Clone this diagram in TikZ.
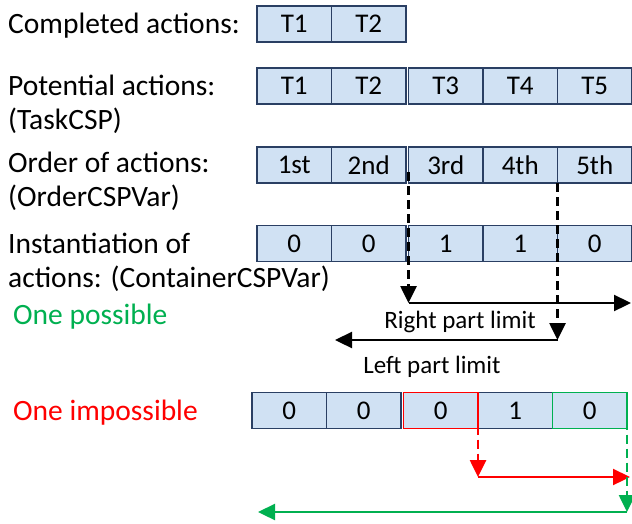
\documentclass[tikz,border=0pt]{standalone}
\usepackage{fontspec}
\setmainfont{Carlito}
\usepackage{tikz}
\usetikzlibrary{arrows.meta}
\definecolor{cellfill}{HTML}{D0E1F3}
\definecolor{celldraw}{HTML}{2A3F63}
\definecolor{okgreen}{HTML}{00B050}

\begin{document}
\begin{tikzpicture}[x=1pt,y=-1pt,node distance=74.5pt,>={Triangle[length=17pt,width=16pt]}]
                  \tikzstyle{cell}=[draw=celldraw,fill=cellfill,line width=1.3pt,minimum width=74.5pt,minimum height=36pt,inner sep=0pt,outer sep=0pt,font=\fontsize{27}{32}\selectfont]
                  \tikzstyle{rowtext}=[anchor=base west,align=left,inner sep=0pt,font=\fontsize{29.5}{34}\selectfont]
                  \tikzstyle{limittext}=[anchor=base,inner sep=0pt,font=\fontsize{25}{30}\selectfont]
                  \tikzstyle{guide}=[->,line width=2.6pt,dash pattern=on 9pt off 5pt]
                  \tikzstyle{reach}=[->,line width=2.3pt]

                  \useasboundingbox (0,0) rectangle (632,523);

                  \node[rowtext] (LC) at (8,33) {Completed actions:};
                  \node[rowtext] (LP) at (8,129) {Potential actions:\\(TaskCSP)};
                  \node[rowtext] (LO) at (8,206) {Order of actions:\\(OrderCSPVar)};
                  \node[rowtext] (LI) at (8,287) {Instantiation of\\actions: (ContainerCSPVar)};
                  \node[rowtext,text=okgreen] (OK) at (13,324) {One possible};
                  \node[rowtext,text=red] (NO) at (13,420) {One impossible};

                  \node[cell] (C1) at (294.25,24) {T1};
                  \node[cell] (C2) [right of=C1] {T2};

                  \node[cell] (P1) at (294.25,86) {T1};
                  \node[cell] (P2) [right of=P1] {T2};
                  \node[cell] (P3) [right of=P2,xshift=2.5pt] {T3};
                  \node[cell] (P4) [right of=P3] {T4};
                  \node[cell] (P5) [right of=P4] {T5};

                  \node[cell] (O1) at (294.25,165) {1st};
                  \node[cell] (O2) [right of=O1] {2nd};
                  \node[cell] (O3) [right of=O2,xshift=2.5pt] {3rd};
                  \node[cell] (O4) [right of=O3] {4th};
                  \node[cell] (O5) [right of=O4] {5th};

                  \node[cell] (I1) at (294.25,243.5) {0};
                  \node[cell] (I2) [right of=I1] {0};
                  \node[cell] (I3) [right of=I2,xshift=2.5pt] {1};
                  \node[cell] (I4) [right of=I3] {1};
                  \node[cell] (I5) [right of=I4] {0};

                  \node[cell] (X1) at (289.25,410.5) {0};
                  \node[cell] (X2) [right of=X1] {0};
                  \node[cell,draw=red] (X3) [right of=X2,xshift=2.5pt] {0};
                  \node[cell] (X4) [right of=X3] {1};
                  \node[cell,draw=okgreen] (X5) [right of=X4] {0};
                  \draw[red,line width=1.6pt] (X3.north west) rectangle (X3.south east);
                  \draw[okgreen,line width=1.6pt] (X5.north west) rectangle (X5.south east);

                  \coordinate (R) at (408.5,303);
                  \coordinate (RE) at (631,303);
                  \coordinate (L) at (557.5,340);
                  \coordinate (LE) at (335,340);
                  \coordinate (RX) at (478,477);
                  \coordinate (RXE) at (630,477);
                  \coordinate (LX) at (627,512);
                  \coordinate (LXE) at (258,512);

                  \draw[guide] ([yshift=11pt]O3.south west) -- (R);
                  \draw[guide] (O4.south east) -- (L);
                  \draw[reach] (R) -- (RE);
                  \draw[reach] (L) -- (LE);
                  \node[limittext] (RT) at (460,328) {Right part limit};
                  \node[limittext] (LT) at (432,373) {Left part limit};

                  \draw[guide,red] ([yshift=-5pt]X3.north east) -- (RX);
                  \draw[reach,red] (RX) -- (RXE);
                  \draw[guide,okgreen] (X5.north east) -- (LX);
                  \draw[reach,okgreen] (LX) -- (LXE);
                \end{tikzpicture}
\end{document}
